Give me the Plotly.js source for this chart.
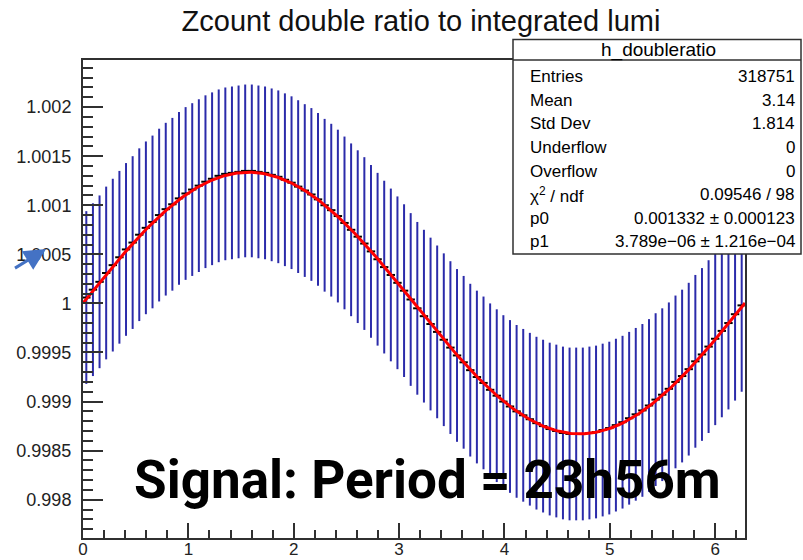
<!DOCTYPE html>
<html>
<head>
<meta charset="utf-8">
<script src="https://cdn.plot.ly/plotly-3.0.1.min.js"></script>
<style>
  html, body { margin: 0; padding: 0; background: #ffffff; }
  #chart { width: 803px; height: 560px; }
</style>
</head>
<body>
<div id="chart"></div>
<script>
// Histogram binning: 100 bins spanning one full phase, 0 .. 2*pi
const nBins = 100;
const xMin = 0;
const xMax = 2 * Math.PI;

// Bin contents of h_doubleratio (double ratio per phase bin)
const binContent = [
  1.00006, 1.00014, 1.00022, 1.00031, 1.00039, 1.00047, 1.00055, 1.00062, 1.00070, 1.00077,
  1.00083, 1.00090, 1.00096, 1.00101, 1.00107, 1.00112, 1.00116, 1.00120, 1.00124, 1.00127,
  1.00130, 1.00132, 1.00133, 1.00134, 1.00135, 1.00135, 1.00134, 1.00133, 1.00131, 1.00129,
  1.00126, 1.00123, 1.00119, 1.00115, 1.00111, 1.00106, 1.00100, 1.00095, 1.00089, 1.00082,
  1.00075, 1.00068, 1.00061, 1.00053, 1.00045, 1.00037, 1.00029, 1.00021, 1.00013, 1.00004,
  0.99995, 0.99987, 0.99979, 0.99971, 0.99963, 0.99955, 0.99947, 0.99940, 0.99932, 0.99925,
  0.99919, 0.99912, 0.99906, 0.99900, 0.99895, 0.99890, 0.99886, 0.99882, 0.99878, 0.99875,
  0.99872, 0.99870, 0.99868, 0.99867, 0.99867, 0.99867, 0.99868, 0.99869, 0.99871, 0.99873,
  0.99876, 0.99879, 0.99883, 0.99887, 0.99891, 0.99896, 0.99902, 0.99907, 0.99913, 0.99920,
  0.99926, 0.99933, 0.99941, 0.99948, 0.99956, 0.99964, 0.99972, 0.99980, 0.99989, 0.99998
];

// Uncertainty on each bin
const binError = 0.00088;

// Fit parameters of the sinusoidal model f(x) = 1 + p0*sin(x) + p1
const fitP0 = 0.001332;
const fitP1 = 3.789e-06;

// Statistics box contents
const statTitle = 'h_doubleratio';
const statLabels = ['Entries', 'Mean', 'Std Dev', 'Underflow', 'Overflow',
                    '\u03c7<sup>2</sup> / ndf', 'p0', 'p1'];
const statValues = ['318751', '3.14', '1.814', '0', '0', '0.09546 / 98',
                    '0.001332 \u00b1 0.000123', '3.789e\u221206 \u00b1 1.216e\u221204'];

const chartTitle = 'Zcount double ratio to integrated lumi';
const signalText = 'Signal: Period = 23h56m';

// ---- derived arrays ----
const binWidth = (xMax - xMin) / nBins;
const binCenters = binContent.map((_, i) => xMin + (i + 0.5) * binWidth);

const fitX = [];
const fitY = [];
const nFit = 400;
for (let k = 0; k <= nFit; k++) {
  const x = xMin + (xMax - xMin) * k / nFit;
  fitX.push(x);
  fitY.push(1 + fitP0 * Math.sin(x) + fitP1);
}

// ---- geometry helpers (page pixels -> paper coordinates) ----
const W = 803, H = 560;
const M = { l: 83, r: 58, t: 60, b: 22 };
const PW = W - M.l - M.r, PH = H - M.t - M.b;
const px = x => (x - M.l) / PW;
const py = y => (H - M.b - y) / PH;

const FONT = 'Liberation Sans, Arial, Helvetica, sans-serif';
const frameColor = '#303030';

const traces = [
  {
    type: 'scatter',
    mode: 'markers',
    x: binCenters,
    y: binContent,
    marker: { symbol: 'line-ew', size: 6, color: '#000000',
              line: { color: '#000000', width: 2 } },
    error_y: { type: 'constant', value: binError, visible: true,
               color: '#2b2baa', thickness: 2, width: 0 },
    hoverinfo: 'x+y',
    showlegend: false
  },
  {
    type: 'scatter',
    mode: 'lines',
    x: fitX,
    y: fitY,
    line: { color: '#ff0000', width: 3 },
    hoverinfo: 'skip',
    showlegend: false
  }
];

const annotations = [];
// stats box header
annotations.push({
  xref: 'paper', yref: 'paper', x: px(658), y: py(50),
  xanchor: 'center', yanchor: 'middle', showarrow: false,
  text: statTitle, font: { family: FONT, size: 19, color: '#000' }
});
statLabels.forEach((lab, i) => {
  const yy = 76.7 + i * 23.6;
  annotations.push({
    xref: 'paper', yref: 'paper', x: px(528), y: py(yy),
    xanchor: 'left', yanchor: 'middle', showarrow: false,
    text: lab, font: { family: FONT, size: 17, color: '#000' }
  });
  annotations.push({
    xref: 'paper', yref: 'paper', x: px(797), y: py(yy),
    xanchor: 'right', yanchor: 'middle', showarrow: false,
    text: statValues[i], font: { family: FONT, size: 17, color: '#000' }
  });
});
// signal label
annotations.push({
  xref: 'paper', yref: 'paper', x: px(427), y: py(480),
  xanchor: 'center', yanchor: 'middle', showarrow: false,
  text: signalText,
  font: { family: 'Roboto, Liberation Sans, sans-serif', size: 53, weight: 700, color: '#000' }
});
// pointer arrow at the left margin
annotations.push({
  xref: 'paper', yref: 'paper', x: px(46), y: py(249),
  axref: 'pixel', ayref: 'pixel', ax: -34, ay: 21,
  showarrow: true, text: ' ', arrowhead: 2, arrowsize: 1.45, arrowwidth: 3,
  arrowcolor: '#4472c4'
});

const shapes = [
  {
    type: 'rect', xref: 'paper', yref: 'paper', layer: 'above',
    x0: px(513), x1: px(801), y0: py(254), y1: py(39.5),
    fillcolor: '#ffffff', line: { color: '#303030', width: 1.5 }
  },
  {
    type: 'line', xref: 'paper', yref: 'paper', layer: 'above',
    x0: px(513), x1: px(801), y0: py(60), y1: py(60),
    line: { color: '#303030', width: 1.5 }
  }
];

const layout = {
  width: W,
  height: H,
  margin: M,
  paper_bgcolor: '#ffffff',
  plot_bgcolor: '#ffffff',
  showlegend: false,
  title: {
    text: chartTitle,
    font: { family: FONT, size: 29, color: '#111' },
    x: 421 / W, xref: 'container', xanchor: 'center',
    y: 1 - 21 / H, yref: 'container', yanchor: 'middle'
  },
  xaxis: {
    range: [xMin, xMax],
    tick0: 0, dtick: 1,
    ticks: 'inside', ticklen: 15, tickwidth: 2, tickcolor: frameColor,
    minor: { dtick: 0.2, ticks: 'inside', ticklen: 8, tickwidth: 2, tickcolor: frameColor, showgrid: false },
    showline: true, mirror: true, linecolor: frameColor, linewidth: 2,
    showgrid: false, zeroline: false, automargin: false,
    ticklabelstandoff: -5,
    tickfont: { family: FONT, size: 17, color: '#222' }
  },
  yaxis: {
    range: [0.99761, 1.00248],
    tick0: 1, dtick: 0.0005,
    ticks: 'inside', ticklen: 20, tickwidth: 2, tickcolor: frameColor,
    minor: { dtick: 0.0001, ticks: 'inside', ticklen: 10, tickwidth: 2, tickcolor: frameColor, showgrid: false },
    showline: true, mirror: true, linecolor: frameColor, linewidth: 2,
    showgrid: false, zeroline: false, automargin: false,
    ticklabelstandoff: 6,
    tickfont: { family: FONT, size: 18, color: '#222' }
  },
  annotations: annotations,
  shapes: shapes
};

Plotly.newPlot('chart', traces, layout, { staticPlot: true, displayModeBar: false });
</script>
</body>
</html>
